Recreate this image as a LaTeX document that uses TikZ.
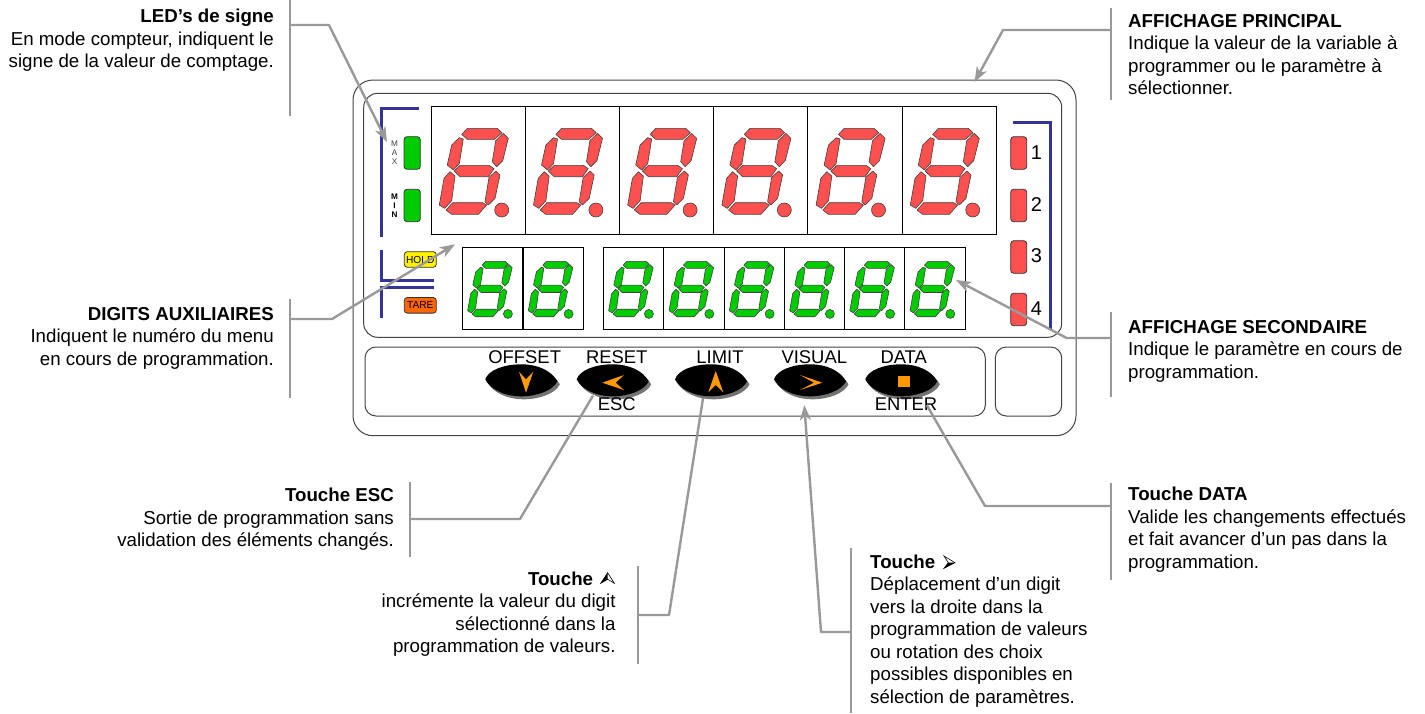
\documentclass[tikz,border=0pt]{standalone}
\usepackage{fontspec}
\setmainfont{Liberation Sans}
\usetikzlibrary{arrows.meta}
\definecolor{segred}{HTML}{FF5050}
\definecolor{seggreen}{HTML}{00CC00}
\definecolor{bluebar}{HTML}{333399}
\definecolor{leader}{HTML}{999999}
\definecolor{keyorange}{HTML}{FF9900}
\definecolor{tareorange}{HTML}{FF6600}
\definecolor{caseline}{HTML}{444444}
\newcommand\fl{\rule{0pt}{14pt}}
\tikzset{
  segment/.style={draw=black!75,line width=0.6pt,line join=round},
  dispbox/.style={draw=black,line width=1pt,fill=white},
  caseouter/.style={draw=caseline,line width=1pt,rounded corners=20pt},
  caseinner/.style={draw=caseline,line width=1pt,rounded corners=14pt},
  keypad/.style={draw=caseline,line width=1pt,rounded corners=11pt},
  bluerule/.style={draw=bluebar,line width=3pt},
  leaderline/.style={draw=leader,line width=2.4pt,line join=round},
  leaderarrow/.style={leaderline,-{Stealth[length=15pt,width=11pt,inset=4pt]}},
  leaderbar/.style={draw=leader,line width=2.4pt},
  lamp/.style={draw=black!80,line width=0.8pt,rounded corners=3pt},
  flaglabel/.style={draw=black!80,line width=0.8pt,rounded corners=3pt,minimum width=32pt,minimum height=15.6pt,inner sep=0pt,font=\fontsize{10.2}{10.2}\selectfont},
  keytext/.style={font=\fontsize{18.4}{18.4}\selectfont,inner sep=0pt},
  numtext/.style={font=\fontsize{20}{20}\selectfont,inner sep=0pt},
  smalltext/.style={font=\fontsize{8.2}{9.1}\selectfont,text=black!75,align=center,inner sep=0pt},
  calltext/.style={font=\fontsize{18.7}{22.5}\selectfont,inner sep=0pt},
  keyicon/.style={draw=black,fill=white,line width=0.6pt,line join=miter},
  chevron/.style={fill=keyorange}
}
\newcommand\segdigit[4]{%
  \begin{scope}[shift={(#1,#2)},x=#3pt,y=-#3pt]
    \path[segment,fill=#4] (30.7,27.7)--(36.3,21.7)--(66.3,21.7)--(71,26)--(63.3,32.7)--(36.3,32.7)--cycle;
    \path[segment,fill=#4] (77.3,31.7)--(72.3,26.7)--(64.7,34)--(61.3,55)--(65.7,60)--(71.7,54)--cycle;
    \path[segment,fill=#4] (32.3,32.3)--(28.3,31)--(20.7,38.3)--(16.3,58.3)--(22.3,63.3)--(28.3,57)--cycle;
    \path[segment,fill=#4] (23,64.3)--(29,58.7)--(58.3,58.7)--(63,62)--(57.3,70)--(29,70)--cycle;
    \path[segment,fill=#4] (24,69.3)--(19,65)--(13,71.7)--(8.3,98.3)--(13.7,101.7)--(20.7,94)--cycle;
    \path[segment,fill=#4] (69,68.3)--(65,64.3)--(58,70.7)--(54,95)--(57.3,98.3)--(64,91.7)--cycle;
    \path[segment,fill=#4] (15,103.3)--(21.7,96)--(51.7,96)--(55.7,98.3)--(47.3,107.7)--(20.7,107.7)--cycle;
    \path[segment,fill=#4] (70.7,103.3) circle[radius=7];
  \end{scope}}
\newcommand\keyoutline{(0,15) .. controls (3,6) and (18,0) .. (36,0) .. controls (52,0) and (66,6) .. (72,17) .. controls (68,26) and (52,32) .. (36,32) .. controls (18,32) and (4,24) .. (0,15) -- cycle}
\newcommand\keycap[2]{%
  \begin{scope}[shift={(#1,#2)}]
    \path[fill=black!55,shift={(2.5,3)}] \keyoutline;
    \path[fill=black] \keyoutline;
  \end{scope}}
\begin{document}
\begin{tikzpicture}[x=1pt,y=-1pt]
\useasboundingbox (0,0) rectangle (1425,713);
\fill[white] (0,0) rectangle (1425,713);
% case
\path[caseouter] (353,80) rectangle (1076,435.7);
\path[caseinner] (363.7,93.3) rectangle (1061.7,337.3);
\path[keypad] (365,347) rectangle (985.3,416);
\path[keypad] (995.3,347) rectangle (1061.7,416);
% blue rules
\draw[bluerule] (419,108.7) -- (381.7,108.7) -- (381.7,237.3);
\draw[bluerule] (381.3,250) -- (381.3,280.7) -- (434,280.7);
\draw[bluerule] (434,287.7) -- (381.3,287.7) -- (381.3,318);
\draw[bluerule] (1012.7,122.7) -- (1050.7,122.7) -- (1050.7,329);
% main digits
\foreach \bx in {431,525.2,619.4,713.6,807.8,902}{
  \path[dispbox] (\bx,106.7) rectangle ++(94.2,128);
  \segdigit{\bx}{106.7}{1}{segred}
}
% secondary digits
\foreach \bx in {462.3,523}{
  \path[dispbox] (\bx,247.3) rectangle ++(60.5,82);
  \segdigit{\bx}{247.3}{0.645}{seggreen}
}
\foreach \bx in {603.3,663.7,724,784.3,844.5,904.7}{
  \path[dispbox] (\bx,247.3) rectangle ++(60.3,82);
  \segdigit{\bx}{247.3}{0.645}{seggreen}
}
% lamps
\path[lamp,fill=seggreen] (404,136.7) rectangle (420.3,169.3);
\path[lamp,fill=seggreen] (404,189.3) rectangle (420.3,221.7);
\path[lamp,fill=segred] (1010.7,136.7) rectangle (1026.7,169.3);
\path[lamp,fill=segred] (1010.7,189.3) rectangle (1026.7,221.7);
\path[lamp,fill=segred] (1010.7,240.7) rectangle (1026.7,273.3);
\path[lamp,fill=segred] (1010.7,293.3) rectangle (1026.7,325.7);
\node[numtext] (n1) at (1036.5,152.5) {1};
\node[numtext] (n2) at (1036.5,204.5) {2};
\node[numtext] (n3) at (1036.5,256) {3};
\node[numtext] (n4) at (1036.5,309) {4};
\node[smalltext] (maxl) at (394.5,153) {M\\A\\X};
\node[smalltext,font=\fontsize{8.2}{8.8}\selectfont\bfseries,text=black] (minl) at (394.5,205.5) {M\\I\\N};
\node[flaglabel,fill=yellow] (hold) at (420.3,259.5) {HOLD};
\node[flaglabel,fill=tareorange] (tare) at (420.3,305.3) {TARE};
% leaders under the keys
\coordinate (escfoot) at (593,395.7);
\coordinate (escknee) at (520,519);
\coordinate (escbar) at (410,519);
\coordinate (upfoot) at (704,392);
\coordinate (upknee) at (669,615);
\coordinate (upbar) at (638,615);
\draw[leaderline] (escfoot) -- (escknee) -- (escbar);
\draw[leaderline] (upfoot) -- (upknee) -- (upbar);
% keys
\keycap{485.3}{364.3}
\keycap{576.7}{364.3}
\keycap{675}{364.3}
\keycap{774}{364.3}
\keycap{865.3}{364.3}
\fill[chevron] (526,392.7) -- (519,371.7) -- (526,379.3) -- (533.3,371.7) -- cycle;
\fill[chevron] (602.3,382.7) -- (624,375) -- (615.7,382.7) -- (624,390) -- cycle;
\fill[chevron] (715.7,371) -- (708.3,392.3) -- (715.7,385) -- (723.3,392.3) -- cycle;
\fill[chevron] (822.3,382.7) -- (800,375) -- (814,382.7) -- (800,390) -- cycle;
\fill[keyorange] (898,376) rectangle (910,386.7);
\node[keytext] (koffset) at (524.7,357) {OFFSET};
\node[keytext] (kreset) at (616.7,357) {RESET};
\node[keytext] (klimit) at (720,357) {LIMIT};
\node[keytext] (kvisual) at (814.3,357) {VISUAL};
\node[keytext] (kdata) at (903.7,357) {DATA};
\node[keytext] (kesc) at (616.7,404.5) {ESC};
\node[keytext] (kenter) at (906,404.5) {ENTER};
% callout texts
\node[calltext,anchor=north east,align=right] (tled) at (274,8.7) {\fl\textbf{LED's de signe}\\En mode compteur, indiquent le\\signe de la valeur de comptage.};
\node[calltext,anchor=north west,align=left] (tmain) at (1128,13) {\fl\textbf{AFFICHAGE PRINCIPAL}\\Indique la valeur de la variable à\\programmer ou le paramètre à\\sélectionner.};
\node[calltext,anchor=north east,align=right] (taux) at (274,306) {\fl\textbf{DIGITS AUXILIAIRES}\\Indiquent le numéro du menu\\en cours de programmation.};
\node[calltext,anchor=north west,align=left] (tsec) at (1128,319) {\fl\textbf{AFFICHAGE SECONDAIRE}\\Indique le paramètre en cours de\\programmation.};
\node[calltext,anchor=north east,align=right] (tesc) at (394,487.5) {\fl\textbf{Touche ESC}\\Sortie de programmation sans\\validation des éléments changés.};
\node[calltext,anchor=north east,align=right] (tup) at (615.7,571) {\fl\textbf{Touche}\hspace*{22.4pt}\\incrémente la valeur du digit\\sélectionné dans la\\programmation de valeurs.};
\node[calltext,anchor=north west,align=left] (tright) at (870,554) {\fl\textbf{Touche}\\Déplacement d'un digit\\vers la droite dans la\\programmation de valeurs\\ou rotation des choix\\possibles disponibles en\\sélection de paramètres.};
\node[calltext,anchor=north west,align=left] (tdata) at (1128,486.5) {\fl\textbf{Touche DATA}\\Valide les changements effectués\\et fait avancer d'un pas dans la\\programmation.};
% inline key icons
\path[keyicon] (607.7,572.7) -- (600.7,583.3) -- (607.7,579.3) -- (614.3,583.3) -- cycle;
\fill[black] (607.7,572.7) -- (600.7,583.3) -- (607.7,579.3) -- cycle;
\path[keyicon] (955,562.7) -- (944,556) -- (948.3,562.7) -- (944,568.3) -- cycle;
\fill[black] (955,562.7) -- (948.3,562.7) -- (944,568.3) -- cycle;
% leaders
\coordinate (ledtip) at (387,142);
\coordinate (ledknee) at (329,25);
\coordinate (ledbar) at (290,25);
\coordinate (maintip) at (974.5,82);
\coordinate (mainknee) at (1003,30);
\coordinate (mainbar) at (1111,30);
\coordinate (auxtip) at (455,244.3);
\coordinate (auxknee) at (332,319);
\coordinate (auxbar) at (290,319);
\coordinate (sectip) at (956,280);
\coordinate (secknee) at (1066.7,338);
\coordinate (secbar) at (1111,338);
\coordinate (righttip) at (804.3,405);
\coordinate (rightknee) at (821,632);
\coordinate (rightbar) at (851,632);
\coordinate (datafoot) at (926.7,405);
\coordinate (dataknee) at (985,506);
\coordinate (databar) at (1111,506);
\draw[leaderarrow] (ledbar) -- (ledknee) -- (ledtip);
\draw[leaderarrow] (mainbar) -- (mainknee) -- (maintip);
\draw[leaderarrow] (auxbar) -- (auxknee) -- (auxtip);
\draw[leaderarrow] (secbar) -- (secknee) -- (sectip);
\draw[leaderarrow] (rightbar) -- (rightknee) -- (righttip);
\draw[leaderline] (databar) -- (dataknee) -- (datafoot);
% bars
\coordinate (b1a) at (290,0); \coordinate (b1b) at (290,116);
\coordinate (b2a) at (1111,8); \coordinate (b2b) at (1111,100);
\coordinate (b3a) at (290,299); \coordinate (b3b) at (290,398);
\coordinate (b4a) at (1111,312); \coordinate (b4b) at (1111,397);
\coordinate (b5a) at (410,482); \coordinate (b5b) at (410,557);
\coordinate (b6a) at (638,566); \coordinate (b6b) at (638,664);
\coordinate (b7a) at (851,548); \coordinate (b7b) at (851,713);
\coordinate (b8a) at (1111,483); \coordinate (b8b) at (1111,580);
\foreach \p in {1,...,8}{\draw[leaderbar] (b\p a) -- (b\p b);}
\end{tikzpicture}
\end{document}
